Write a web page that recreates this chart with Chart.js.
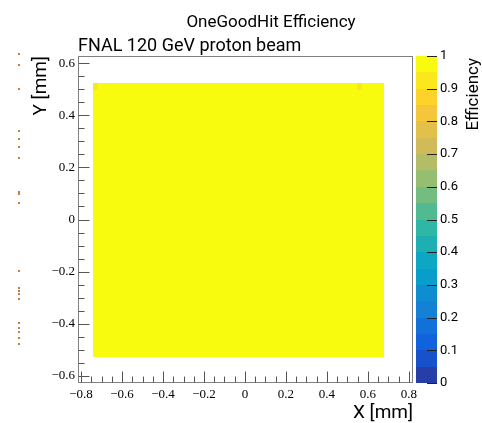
<!DOCTYPE html>
<html><head><meta charset="utf-8">
<script src="https://cdn.jsdelivr.net/npm/chart.js@4.4.0/dist/chart.umd.min.js"></script>
<style>html,body{margin:0;padding:0;background:#fff;}</style>
</head><body>
<canvas id="c" width="482" height="423"></canvas>
<script>
// ---- data ----
const titleText = "OneGoodHit Efficiency";
const subtitleText = "FNAL 120 GeV proton beam";
const xTitle = "X [mm]";
const yTitle = "Y [mm]";
const zTitle = "Efficiency";
const xRange = [-0.815, 0.82];
const yRange = [-0.628, 0.628];
const zRange = [0, 1];
// histogram cells (bin edges in mm, efficiency)
const binXLow  = [-0.742, -0.742, 0.546];
const binXHigh = [ 0.678, -0.717, 0.571];
const binYLow  = [-0.527,  0.498, 0.498];
const binYHigh = [ 0.523,  0.523, 0.523];
const binEff   = [ 1.00,   0.93,  0.93];
// stray marks left of the frame
const strayX = [-1.102,-1.102,-1.102,-1.102,-1.102,-1.102,-1.102,-1.102,-1.102,-1.102,-1.102,-1.102,-1.102,-1.102,-1.102,-1.102,-1.102,-1.102,-1.102,-1.102];
const strayY = [0.636,0.593,0.501,0.340,0.310,0.279,0.237,0.106,0.098,0.064,-0.197,-0.262,-0.274,-0.285,-0.304,-0.396,-0.415,-0.434,-0.454,-0.477];

// kBird palette
const birdStops = [0, .125, .25, .375, .5, .625, .75, .875, 1];
const birdR = [0.2082,0.0592,0.0780,0.0232,0.1802,0.5301,0.8186,0.9956,0.9764];
const birdG = [0.1664,0.3599,0.5041,0.6419,0.7178,0.7492,0.7328,0.7862,0.9832];
const birdB = [0.5293,0.8684,0.8385,0.7914,0.6425,0.4662,0.3499,0.1968,0.0539];
const nContours = 20;
function birdAt(f){
  f = Math.max(0, Math.min(1, f));
  let i = 0;
  while (i < birdStops.length - 2 && f > birdStops[i+1]) i++;
  const t = (f - birdStops[i]) / (birdStops[i+1] - birdStops[i]);
  const c = a => Math.round(255 * (a[i] + t * (a[i+1] - a[i])));
  return `rgb(${c(birdR)},${c(birdG)},${c(birdB)})`;
}
function bandColor(b){
  const idx = Math.floor((b + 0.99) * 255 / nContours);
  return birdAt(idx / 254);
}
function valueColor(v){
  const b = Math.min(nContours - 1, Math.floor(v * nContours + 1e-9));
  return bandColor(b);
}
function fmt(v){
  const r = Math.round(v * 100) / 100;
  if (Math.abs(r) < 1e-9) return "0";
  const s = Math.abs(r) === 1 ? "1" : Math.abs(r).toFixed(1);
  return (r < 0 ? "\u2212" : "") + s;
}

const tickFont = {family: "'Liberation Serif', serif", size: 13};

const histPlugin = {
  id: 'hist',
  beforeDatasetsDraw(chart){
    const {ctx, scales:{x, y}} = chart;
    ctx.save();
    for (let i = 0; i < binEff.length; i++){
      const px0 = x.getPixelForValue(binXLow[i]), px1 = x.getPixelForValue(binXHigh[i]);
      const py0 = y.getPixelForValue(binYLow[i]), py1 = y.getPixelForValue(binYHigh[i]);
      ctx.fillStyle = valueColor(binEff[i]);
      ctx.fillRect(Math.round(px0), Math.round(py1), Math.round(px1) - Math.round(px0), Math.round(py0) - Math.round(py1));
    }
    ctx.fillStyle = '#c08040';
    for (let i = 0; i < strayY.length; i++){
      const px = x.getPixelForValue(strayX[i]), py = y.getPixelForValue(strayY[i]);
      ctx.fillRect(Math.round(px) - 1, Math.round(py) - 1, 2, 2);
    }
    ctx.restore();
  },
  afterDraw(chart){
    const {ctx, chartArea: a, scales:{x, y, z}} = chart;
    ctx.save();
    // frame
    ctx.strokeStyle = '#808080';
    ctx.lineWidth = 1;
    ctx.strokeRect(a.left + 0.5, a.top + 0.5, a.right - a.left - 1, a.bottom - a.top - 1);
    // ticks
    ctx.strokeStyle = '#555';
    ctx.beginPath();
    for (let k = -16; k <= 16; k++){
      const v = k * 0.05;
      if (v < xRange[0] || v > xRange[1]) continue;
      const px = Math.round(x.getPixelForValue(v)) + 0.5;
      const len = (k % 4 === 0) ? 11 : 6;
      ctx.moveTo(px, a.bottom - 0.5); ctx.lineTo(px, a.bottom - 0.5 - len);
    }
    for (let k = -12; k <= 12; k++){
      const v = k * 0.05;
      if (v < yRange[0] || v > yRange[1]) continue;
      const py = Math.round(y.getPixelForValue(v)) + 0.5;
      const len = (k % 4 === 0) ? 11 : 6;
      ctx.moveTo(a.left + 0.5, py); ctx.lineTo(a.left + 0.5 + len, py);
    }
    ctx.stroke();
    // colour bar
    const cbL = z.left + 3, cbR = z.left + 24;
    for (let b = 0; b < nContours; b++){
      const y0 = Math.round(z.getPixelForValue(b / nContours));
      const y1 = Math.round(z.getPixelForValue((b + 1) / nContours));
      ctx.fillStyle = bandColor(b);
      ctx.fillRect(cbL, y1, cbR - cbL, y0 - y1);
    }
    ctx.strokeStyle = '#222';
    ctx.beginPath();
    for (let k = 0; k <= 10; k++){
      const py = Math.round(z.getPixelForValue(k / 10)) + 0.5;
      ctx.moveTo(cbR, py); ctx.lineTo(cbR - 10, py);
    }
    ctx.stroke();
    // texts
    ctx.fillStyle = '#000';
    ctx.textBaseline = 'alphabetic';
    ctx.font = "17px Roboto";
    ctx.textAlign = 'center';
    ctx.fillText(titleText, 271, 27);
    ctx.font = "18px Roboto";
    ctx.textAlign = 'left';
    ctx.fillText(subtitleText, a.left, 51);
    ctx.font = "19px Roboto";
    ctx.textAlign = 'right';
    ctx.fillText(xTitle, a.right, 418);
    ctx.save();
    ctx.translate(46, a.top);
    ctx.rotate(-Math.PI / 2);
    ctx.textAlign = 'right';
    ctx.fillText(yTitle, 0, 0);
    ctx.restore();
    ctx.save();
    ctx.font = "17px Roboto";
    ctx.translate(478, a.top + 2);
    ctx.rotate(-Math.PI / 2);
    ctx.textAlign = 'right';
    ctx.fillText(zTitle, 0, 0);
    ctx.restore();
    ctx.restore();
  }
};

new Chart(document.getElementById('c'), {
  type: 'scatter',
  data: { datasets: [{ data: [], pointRadius: 0 }] },
  options: {
    responsive: false,
    animation: false,
    devicePixelRatio: 1,
    layout: { padding: { top: 56, right: 0, bottom: 0, left: 0 } },
    plugins: { legend: { display: false }, tooltip: { enabled: false }, title: { display: false } },
    scales: {
      x: {
        type: 'linear', position: 'bottom', min: xRange[0], max: xRange[1],
        grid: { display: false, drawTicks: false }, border: { display: false },
        ticks: { stepSize: 0.2, includeBounds: false, autoSkip: false, maxRotation: 0, padding: 4,
                 color: '#000', font: tickFont, callback: v => fmt(v) },
        afterFit: s => { s.height = 40; }
      },
      y: {
        type: 'linear', position: 'left', min: yRange[0], max: yRange[1],
        grid: { display: false, drawTicks: false }, border: { display: false },
        ticks: { stepSize: 0.2, includeBounds: false, autoSkip: false, padding: 3,
                 color: '#000', font: tickFont, callback: v => fmt(v) },
        afterFit: s => { s.width = 78; }
      },
      z: {
        type: 'linear', axis: 'y', position: 'right', min: zRange[0], max: zRange[1],
        grid: { display: false, drawTicks: false }, border: { display: false },
        ticks: { stepSize: 0.1, includeBounds: false, autoSkip: false, padding: 27,
                 color: '#000', font: { family: "Roboto", size: 13 }, callback: v => fmt(v) },
        afterFit: s => { s.width = 69; }
      }
    }
  },
  plugins: [histPlugin]
});
</script>
</body></html>
